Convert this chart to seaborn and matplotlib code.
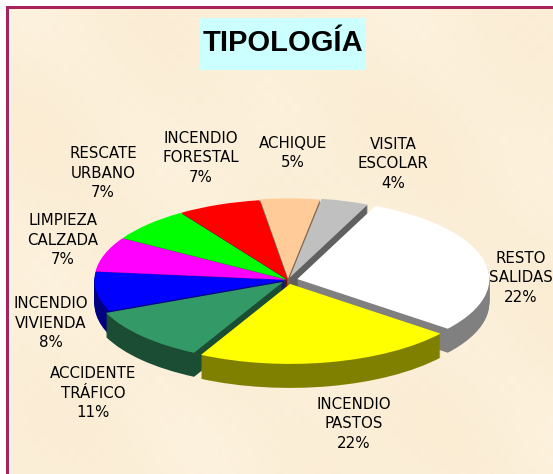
import numpy as np
import seaborn as sns
import matplotlib.pyplot as plt
from matplotlib.colors import to_rgb

# values
names = ['RESTO\nSALIDAS', 'INCENDIO\nPASTOS', 'ACCIDENTE\nTRÁFICO', 'INCENDIO\nVIVIENDA',
         'LIMPIEZA\nCALZADA', 'RESCATE\nURBANO', 'INCENDIO\nFORESTAL', 'ACHIQUE', 'VISITA\nESCOLAR']
slices = [29, 22, 11, 8, 7, 7, 7, 5, 4]
shown = ['22%', '22%', '11%', '8%', '7%', '7%', '7%', '5%', '4%']
colors = ['#FFFFFF', '#FFFF00', '#339966', '#0000FF', '#FF00FF', '#00FF00', '#FF0000', '#FFCC99', '#C0C0C0']

# layout in picture pixels
explode = [0.05, 0.05, 0.035, 0.008, 0.008, 0.008, 0.008, 0.02, 0.03]
label_xy = [(521, 278), (354, 424), (93, 393), (51, 323), (63, 240), (103, 173), (201, 158), (293, 153), (393, 164)]
W, H = 553, 474
cx, cy = 288, 280
rx, ry = 192, 80
depth = 24

sns.set_theme(style='white')
plt.rcParams['font.family'] = ['DejaVu Sans']
dark = [tuple(0.5 * v for v in to_rgb(c)) for c in colors]

fig = plt.figure(figsize=(W / 100, H / 100), dpi=100, facecolor='white')
ax = fig.add_axes([0, 0, 1, 1])

for d in range(depth, 0, -1):
    ax.pie(slices, colors=dark, explode=explode, startangle=66, counterclock=False,
           center=(0, -d / ry), wedgeprops={'linewidth': 0.6, 'edgecolor': 'none'})
ax.pie(slices, colors=colors, explode=explode, startangle=66, counterclock=False,
       wedgeprops={'linewidth': 0})

ax.set_aspect('auto')
ax.set_xlim(-cx / rx, (W - cx) / rx)
ax.set_ylim(-(H - cy) / ry, cy / ry)

# paper background behind the pie
bg = fig.add_axes([0, 0, 1, 1], zorder=-1)
yy, xx = np.mgrid[0:H, 0:W]
tex = (np.sin(xx / 61.0 + 1.3) * np.cos(yy / 47.0) + 0.5 * np.sin(xx / 29.0 - yy / 37.0 + 0.7)
       + 0.25 * np.sin(xx / 3.1) * np.sin(yy / 3.3))
bg.imshow(tex, cmap=sns.blend_palette(['#FBECD3', '#FDF2DE'], as_cmap=True), aspect='auto',
          extent=(0, W, H, 0), interpolation='bilinear')
bg.axis('off')

# border, title and labels in pixel coordinates
over = fig.add_axes([0, 0, 1, 1], zorder=5)
over.set_xlim(0, W)
over.set_ylim(H, 0)
over.axis('off')
over.add_patch(plt.Rectangle((0, 0), W, 5.5, color='white', lw=0))
over.add_patch(plt.Rectangle((0, 0), 6, H, color='white', lw=0))
over.add_patch(plt.Rectangle((9, 8.5), 1.5, H, color='#FFF8EC', lw=0))
over.add_patch(plt.Rectangle((6, 5.5), W, 3, color='#A8235C', lw=0))
over.add_patch(plt.Rectangle((6, 5.5), 3, H, color='#A8235C', lw=0))
over.add_patch(plt.Rectangle((200, 18), 166, 52, color='#CCFFFF', lw=0))
over.text(283, 43, 'TIPOLOGÍA', ha='center', va='center', fontsize=21, fontweight='bold',
          family='Liberation Sans', color='black')
for name, pct, (x, y) in zip(names, shown, label_xy):
    over.text(x, y, name + '\n' + pct, ha='center', va='center', fontsize=10.8,
              linespacing=1.37, color='black')

fig.savefig('out.png', dpi=100)
